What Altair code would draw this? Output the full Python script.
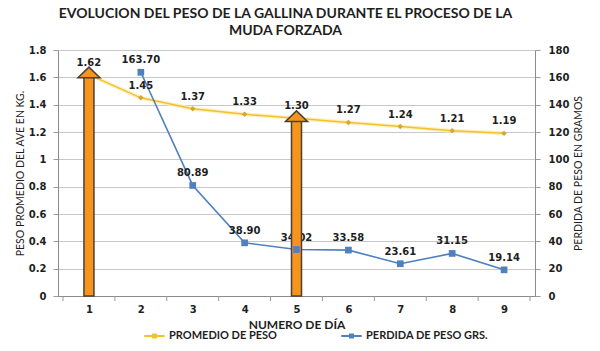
import altair as alt
import pandas as pd

# ---- data ----
days = [1, 2, 3, 4, 5, 6, 7, 8, 9]
peso = [1.62, 1.45, 1.37, 1.33, 1.30, 1.27, 1.24, 1.21, 1.19]
perdida_days = [2, 3, 4, 5, 6, 7, 8, 9]
perdida = [163.70, 80.89, 38.90, 34.02, 33.58, 23.61, 31.15, 19.14]
arrow_days = [1, 5]
left_ticks = [0, 0.2, 0.4, 0.6, 0.8, 1, 1.2, 1.4, 1.6, 1.8]
right_ticks = [0, 20, 40, 60, 80, 100, 120, 140, 160, 180]
x_bounds = [0.5, 1.5, 2.5, 3.5, 4.5, 5.5, 6.5, 7.5, 8.5, 9.5]
series = ["PROMEDIO DE PESO", "PERDIDA DE PESO GRS."]

df_peso = pd.DataFrame({"dia": days, "v": peso, "lab": [f"{v:.2f}" for v in peso],
                        "serie": series[0]})
df_perd = pd.DataFrame({"dia": perdida_days, "v": perdida, "lab": [f"{v:.2f}" for v in perdida],
                        "serie": series[1]})
df_arrow = df_peso[df_peso["dia"].isin(arrow_days)]
df_bounds = pd.DataFrame({"dia": x_bounds})

W, H = 477, 246
NUM_FONT = "DejaVu Sans"
TXT_FONT = "Lato"
DARK = "#1e1e1e"
YEL = "#F2C12E"
BLUE = "#4F81BD"
ORANGE = "#F7941D"

xs = alt.Scale(domain=[0.5, 9.5], nice=False, zero=False)
yl = alt.Scale(domain=[0, 1.8], nice=False, zero=True)
yr = alt.Scale(domain=[0, 180], nice=False, zero=True)
cscale = alt.Scale(domain=series, range=[YEL, BLUE])

x_axis = alt.Axis(values=days, title="NUMERO DE DÍA", ticks=False, grid=False,
                  domainColor="#8c8c8c", labelFont=NUM_FONT, labelFontWeight="bold",
                  labelFontSize=10, labelColor=DARK, labelPadding=8, format="d",
                  titleFont=TXT_FONT, titleFontWeight="bold", titleFontSize=12,
                  titleColor=DARK, titlePadding=5)
X = alt.X("dia:Q", scale=xs, axis=x_axis)

left_axis = alt.Axis(values=left_ticks, format="~g", title="PESO PROMEDIO DEL AVE EN KG.",
                     grid=True, gridColor="#c8c8c8", tickSize=5, tickColor="#9a9a9a",
                     domainColor="#8c8c8c", labelFont=NUM_FONT, labelFontWeight="bold",
                     labelFontSize=10, labelColor=DARK, labelPadding=7,
                     titleFont=TXT_FONT, titleFontWeight="normal", titleFontSize=10.5,
                     titleColor=DARK, titleAngle=270, titleX=-38, titleY=H / 2,
                     titleAlign="center", titleBaseline="middle")
right_axis = alt.Axis(values=right_ticks, orient="right", title="PERDIDA DE PESO EN GRAMOS",
                      grid=False, tickSize=5, tickColor="#9a9a9a", domainColor="#8c8c8c",
                      labelFont=NUM_FONT, labelFontWeight="bold", labelFontSize=10,
                      labelColor=DARK, labelPadding=8,
                      titleFont=TXT_FONT, titleFontWeight="normal", titleFontSize=10.5,
                      titleColor=DARK, titleAngle=270, titleX=43, titleY=H / 2,
                      titleAlign="center", titleBaseline="middle")

legend = alt.Legend(orient="none", legendX=85, legendY=274, direction="horizontal",
                    title=None,
                    symbolType="M-1,0L1,0M-0.15,-0.15L0.15,-0.15L0.15,0.15L-0.15,0.15Z",
                    symbolSize=420, symbolStrokeWidth=2,
                    labelFont=TXT_FONT, labelFontWeight="bold", labelFontSize=11,
                    labelColor=DARK, labelOffset=3, columnPadding=60)
COLOR = alt.Color("serie:N", scale=cscale, legend=legend)

base_p = alt.Chart(df_peso)
base_b = alt.Chart(df_perd)

halo = base_p.mark_line(color="#FBEDB5", strokeWidth=4, opacity=0.8).encode(
    x=X, y=alt.Y("v:Q", scale=yl, axis=left_axis))
yline = base_p.mark_line(strokeWidth=1.5).encode(
    x=X, y=alt.Y("v:Q", scale=yl, axis=None), color=COLOR)
ypts = base_p.mark_point(shape="diamond", filled=True, size=30, color="#D6A53A", opacity=1).encode(
    x=X, y=alt.Y("v:Q", scale=yl, axis=None))
bline = base_b.mark_line(strokeWidth=1.6).encode(
    x=X, y=alt.Y("v:Q", scale=yr, axis=right_axis), color=COLOR)
ylab = base_p.mark_text(font=NUM_FONT, fontWeight="bold", fontSize=10, color=DARK,
                        dy=-12, baseline="middle").encode(
    x=X, y=alt.Y("v:Q", scale=yl, axis=None), text="lab:N")
blab = base_b.mark_text(font=NUM_FONT, fontWeight="bold", fontSize=10, color=DARK,
                        dy=-12, baseline="middle").encode(
    x=X, y=alt.Y("v:Q", scale=yr, axis=None), text="lab:N")
shaft = alt.Chart(df_arrow).mark_bar(size=10, color=ORANGE, stroke="#4a4036", strokeWidth=1.5).encode(
    x=X, y=alt.Y("v:Q", scale=yl, axis=None), y2=alt.datum(0))
head = alt.Chart(df_arrow).mark_point(shape="M-1,0.28L1,0.28L0,-0.68Z", size=484, filled=True,
                                      fill=ORANGE, stroke="#4a4036", strokeWidth=1.5,
                                      opacity=1).encode(
    x=X, y=alt.Y("v:Q", scale=yl, axis=None))
bpts = base_b.mark_point(shape="square", filled=True, size=45, color=BLUE, opacity=1).encode(
    x=X, y=alt.Y("v:Q", scale=yr, axis=None))
xticks = alt.Chart(df_bounds).mark_rule(color="#9a9a9a", strokeWidth=1).encode(
    x=X, y=alt.value(H), y2=alt.value(H + 5))

chart = alt.layer(halo, yline, ypts, bline, ylab, blab, shaft, head, bpts, xticks).resolve_scale(
    y="independent"
).properties(
    width=W, height=H,
    autosize=alt.AutoSizeParams(type="none"),
    padding={"left": 58, "top": 50, "right": 65, "bottom": 55},
    title=alt.TitleParams(
        text=["EVOLUCION DEL PESO DE LA GALLINA DURANTE EL PROCESO DE LA", "MUDA FORZADA"],
        font=TXT_FONT, fontSize=14, fontWeight="bold", color=DARK, anchor="middle",
        lineHeight=17, offset=7, dx=-11),
).configure_view(stroke=None).configure(background="white")

chart.save("out.html", embed_options={"renderer": "svg", "actions": False})
